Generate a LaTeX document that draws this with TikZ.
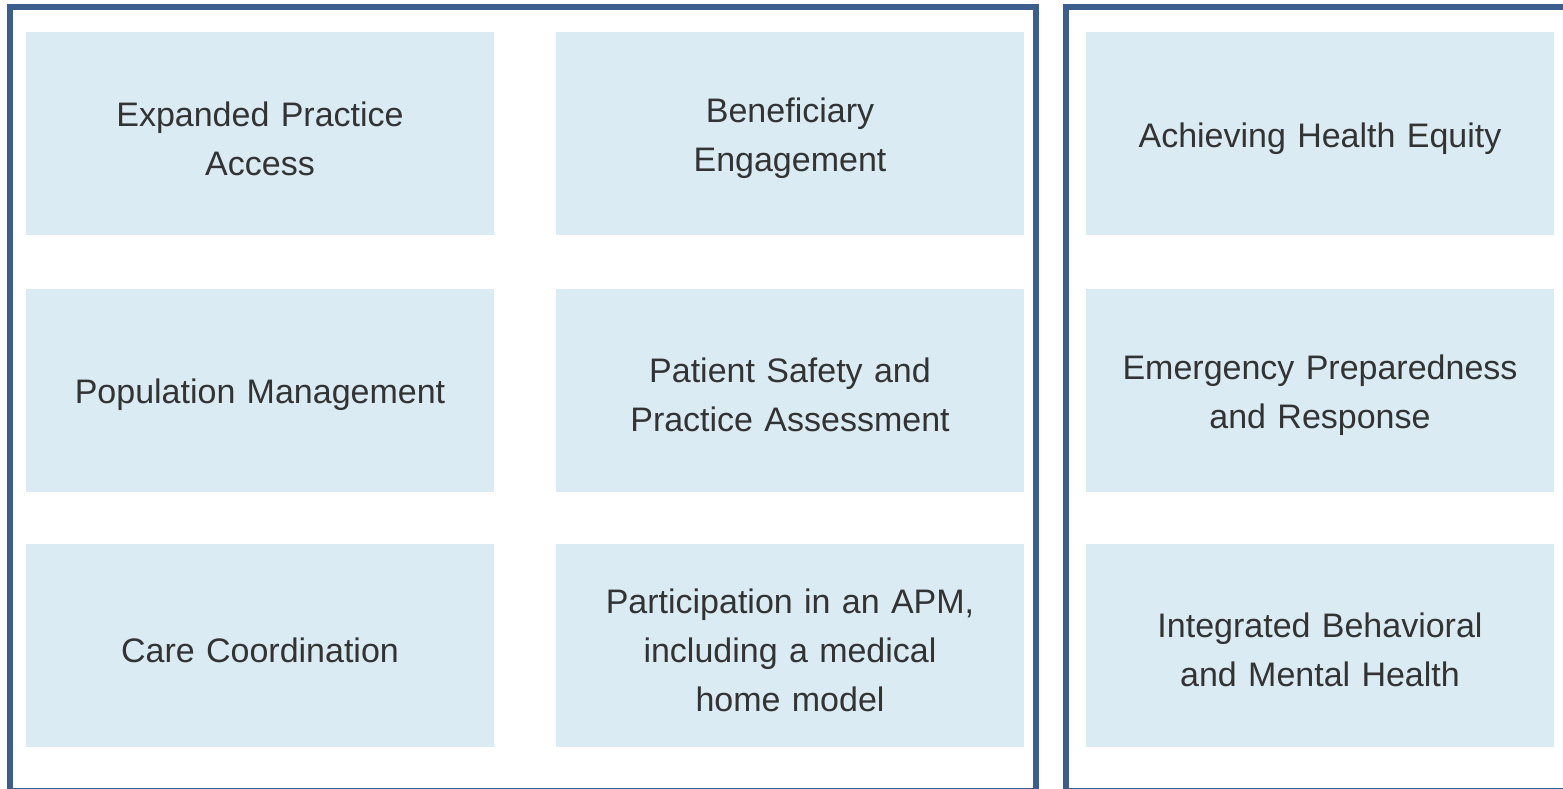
\documentclass[tikz,border=0pt]{standalone}
\usepackage{fontspec}
\setmainfont{Liberation Sans}
\definecolor{framec}{HTML}{3B5E8C}
\definecolor{boxc}{HTML}{DAEBF3}
\definecolor{textc}{HTML}{333333}
\begin{document}
\begin{tikzpicture}[x=1pt,y=-1pt,
  frame/.style={draw=framec,line width=6pt},
  item/.style={fill=boxc,draw=none,minimum width=468pt,minimum height=203pt,inner sep=0pt},
  txt/.style={inner sep=0pt,text width=450pt,align=center,text=textc,
    font=\fontsize{34}{49}\selectfont}]
\useasboundingbox (0,0) rectangle (1563,789);
\clip (0,0) rectangle (1563,789);
\fill[white] (0,0) rectangle (1563,789);
\draw[frame] (10,7) rectangle (1035.5,791);
\draw[frame] (1066,7) rectangle (1580,791);
\node[item] (a1) at (260,133.5) {};
\node[item] (a2) at (790,133.5) {};
\node[item] (a3) at (1320,133.5) {};
\node[item] (b1) at (260,390) {};
\node[item] (b2) at (790,390) {};
\node[item] (b3) at (1320,390) {};
\node[item] (c1) at (260,645) {};
\node[item] (c2) at (790,645) {};
\node[item] (c3) at (1320,645) {};
\node[txt] (ta1) at ([yshift=-5pt]a1.center) {Expanded Practice\\Access};
\node[txt] (ta2) at ([yshift=-5pt]a2.center) {Beneficiary\\Engagement};
\node[txt] (ta3) at ([yshift=-5pt]a3.center) {Achieving Health Equity};
\node[txt] (tb1) at ([yshift=-5pt]b1.center) {Population Management};
\node[txt] (tb2) at ([yshift=-5pt]b2.center) {Patient Safety and\\Practice Assessment};
\node[txt] (tb3) at ([yshift=-5pt]b3.center) {Emergency Preparedness\\and Response};
\node[txt] (tc1) at ([yshift=-5pt]c1.center) {Care Coordination};
\node[txt] (tc2) at ([yshift=-5pt]c2.center) {Participation in an APM,\\including a medical\\home model};
\node[txt] (tc3) at ([yshift=-5pt]c3.center) {Integrated Behavioral\\and Mental Health};
\end{tikzpicture}
\end{document}
